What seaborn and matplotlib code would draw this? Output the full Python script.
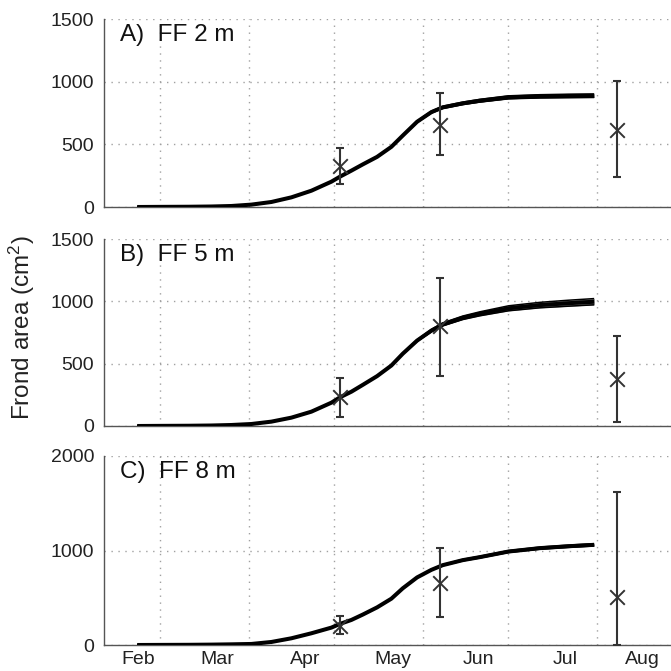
import matplotlib
matplotlib.use("Agg")
import matplotlib.pyplot as plt
import numpy as np
import seaborn as sns

sns.set_theme(style="white")
plt.rcParams["font.family"] = ["Liberation Sans", "DejaVu Sans"]
plt.rcParams["mathtext.fontset"] = "custom"
plt.rcParams["mathtext.rm"] = "Liberation Sans"
plt.rcParams["mathtext.it"] = "Liberation Sans:italic"

# ---- data (day of year) ----
days = [52, 60, 70, 78, 85, 92, 99, 106, 113, 120, 123, 127, 131, 136, 141,
        145, 150, 155, 159, 166, 172, 182, 193, 203, 212]
curve_a = [0, 1, 2, 4, 8, 19, 40, 77, 130, 202, 242, 290, 340, 400, 480,
           570, 680, 757, 795, 827, 848, 875, 883, 886, 888]
curve_b = [0, 1, 2, 4, 8, 16, 35, 67, 115, 187, 230, 275, 330, 400, 485,
           580, 685, 765, 815, 868, 900, 944, 970, 985, 997]
curve_c = [0, 1, 2, 4, 7, 11, 32, 71, 124, 184, 223, 265, 322, 398, 490,
           600, 715, 795, 845, 898, 930, 989, 1025, 1045, 1060]
spread_a = [0, 0, 0, 0, 0, 0, 0, 0, 0, 0, 0, 0, 1, 2, 3, 4, 6, 8, 9, 10, 11, 12, 13, 14, 14]
spread_b = [0, 0, 0, 0, 0, 0, 0, 0, 0, 0, 0, 0, 1, 2, 3, 5, 7, 10, 12, 14, 16, 20, 22, 24, 25]
spread_c = [0, 0, 0, 0, 0, 0, 0, 0, 0, 0, 0, 0, 1, 1, 2, 3, 4, 5, 6, 8, 9, 10, 11, 12, 12]

obs_days = [123, 158, 220]
obs_a = [327, 654, 614]
obs_a_lo = [184, 415, 239]
obs_a_hi = [468, 907, 1005]
obs_b = [230, 802, 377]
obs_b_lo = [75, 401, 35]
obs_b_hi = [382, 1190, 724]
obs_c = [201, 654, 512]
obs_c_lo = [113, 300, 0]
obs_c_hi = [311, 1025, 1614]

panel_titles = ["A)  FF 2 m", "B)  FF 5 m", "C)  FF 8 m"]
ylims = [1500, 1500, 2000]
yticks = [[0, 500, 1000, 1500], [0, 500, 1000, 1500], [0, 1000, 2000]]

month_starts = [60, 91, 121, 152, 182, 213]
month_labels = ["Feb", "Mar", "Apr", "May", "Jun", "Jul", "Aug"]
month_label_pos = [52.3, 80, 110.8, 141.6, 171.4, 201.8, 228.8]

W = 671.0
panels_px = [(19, 207), (239, 426), (456, 645)]

fig = plt.figure(figsize=(6.71, 6.71), dpi=100)
fig.patch.set_facecolor("white")

curves = [curve_a, curve_b, curve_c]
spreads = [spread_a, spread_b, spread_c]
obs = [(obs_a, obs_a_lo, obs_a_hi), (obs_b, obs_b_lo, obs_b_hi), (obs_c, obs_c_lo, obs_c_hi)]

for i in range(3):
    top, bot = panels_px[i]
    ax = fig.add_axes([104 / W, 1 - bot / W, 1 - 104 / W, (bot - top) / W])
    ax.set_facecolor("white")
    c = np.array(curves[i], dtype=float)
    s = np.array(spreads[i], dtype=float)
    lo = c - s
    hi = c + s
    ax.fill_between(days, lo, hi, color="#707070", lw=0, zorder=2)
    sns.lineplot(x=days, y=lo, ax=ax, color="black", lw=1.1, zorder=3,
                 solid_joinstyle="round", solid_capstyle="butt")
    sns.lineplot(x=days, y=hi, ax=ax, color="black", lw=1.1, zorder=3,
                 solid_joinstyle="round", solid_capstyle="butt")
    sns.lineplot(x=days, y=c, ax=ax, color="black", lw=2.9, zorder=4,
                 solid_joinstyle="round", solid_capstyle="butt")

    v, vlo, vhi = obs[i]
    v = np.array(v, float)
    ax.errorbar(obs_days, v, yerr=[v - np.array(vlo, float), np.array(vhi, float) - v],
                fmt="none", ecolor="#333333", elinewidth=1.5, capsize=3,
                capthick=1.5, zorder=5)
    sns.scatterplot(x=obs_days, y=v, ax=ax, marker="x", s=110, color="#333333",
                    linewidth=1.4, zorder=6)

    ax.set_xlim(40.4, 238.9)
    ax.set_ylim(0, ylims[i])
    ax.set_yticks(yticks[i])
    ax.set_yticklabels([str(t) for t in yticks[i]], fontsize=14, color="#222222")
    ax.set_xticks(month_starts)
    ax.set_xticklabels([])
    ax.set_xticks(month_label_pos, minor=True)
    if i == 2:
        ax.set_xticklabels(month_labels, minor=True, fontsize=14, color="#222222")
    else:
        ax.set_xticklabels([], minor=True)
    ax.tick_params(axis="x", which="minor", length=0, pad=4)
    ax.tick_params(axis="both", which="major", direction="in", length=4,
                   color="#555555", width=0.8)
    ax.tick_params(axis="y", pad=7)
    ax.grid(True, which="major", linestyle=(0, (1, 4)), color="#a0a0a0", lw=1.0)
    ax.set_axisbelow(True)
    for sp in ["top", "right"]:
        ax.spines[sp].set_visible(False)
    for sp in ["left", "bottom"]:
        ax.spines[sp].set_color("#555555")
        ax.spines[sp].set_linewidth(1.0)
    ax.text(0.028, 0.975, panel_titles[i], transform=ax.transAxes, va="top",
            ha="left", fontsize=17.5, color="#111111")

fig.text(22 / W, 1 - 328 / W, "Frond area (cm$^{\\mathrm{2}}$)", rotation=90,
         va="center", ha="center", fontsize=17.5, color="#222222")

fig.savefig("out.png", dpi=100)
